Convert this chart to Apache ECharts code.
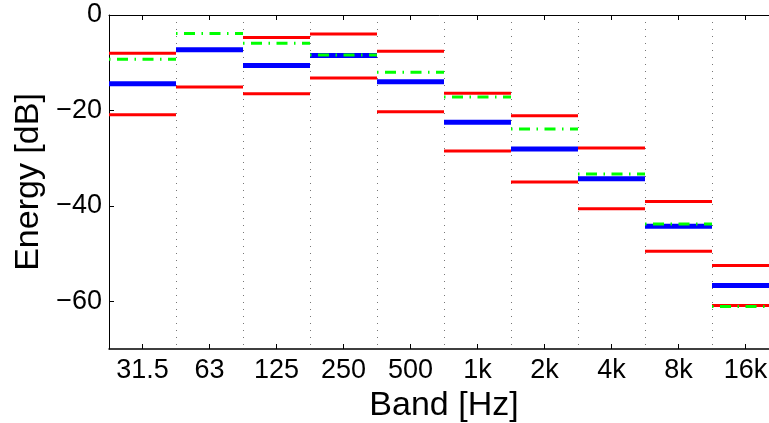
<!DOCTYPE html>
<html>
<head>
<meta charset="utf-8">
<script src="https://cdn.jsdelivr.net/npm/echarts@6/dist/echarts.min.js"></script>
<style>
html,body{margin:0;padding:0;background:#fff;}
#c{width:769px;height:423px;}
</style>
</head>
<body>
<div id="c"></div>
<script>
const bands = ['31.5','63','125','250','500','1k','2k','4k','8k','16k'];
const redUpper = [-8.0, null, -4.7, -4.0, -7.6, -16.4, -21.1, -27.9, -39.1, -52.5];
const redLower = [-20.9, -15.1, -16.5, -13.2, -20.3, -28.5, -35.0, -40.6, -49.5, -60.9];
const blueMean = [-14.4, -7.3, -10.6, -8.5, -14.0, -22.5, -28.1, -34.3, -44.3, -56.7];
const greenRef = [-9.3, -3.9, -5.9, -8.4, -12.0, -17.2, -23.9, -33.3, -43.8, -61.1];
const yTicks = [-60, -40, -20, 0];

const FONT = 'Liberation Sans, Arial, Helvetica, sans-serif';

function toData(arr){
  const d = [];
  arr.forEach((v,i)=>{ if(v!==null) d.push([i, v]); });
  return d;
}
function seg(color, width, dash, offset){
  return function(params, api){
    const c = api.coord([api.value(0), api.value(1)]);
    const w = api.size([1, 0])[0];
    return {
      type: 'line',
      shape: {x1: c[0]-w/2, y1: c[1], x2: c[0]+w/2, y2: c[1]},
      style: {stroke: color, lineWidth: width, lineDash: dash || null, lineDashOffset: offset || 0, lineCap: 'butt'}
    };
  };
}

const chart = echarts.init(document.getElementById('c'), null, {renderer: 'canvas'});
chart.setOption({
  animation: false,
  backgroundColor: '#fff',
  grid: {left: 109, width: 670, top: 15, height: 334, containLabel: false, outerBoundsMode: 'none'},
  xAxis: [{
    type: 'category',
    data: bands,
    position: 'bottom',
    boundaryGap: true,
    name: 'Band [Hz]',
    nameLocation: 'middle',
    nameGap: 36,
    nameTextStyle: {fontFamily: FONT, fontSize: 34, color: '#000'},
    axisLine: {show: true, onZero: false, lineStyle: {color: '#000', width: 1.5}},
    axisTick: {show: true, inside: true, alignWithLabel: true, length: 5, lineStyle: {color: '#000', width: 1}},
    axisLabel: {fontFamily: FONT, fontSize: 27, color: '#000', margin: 8, interval: 0},
    splitLine: {show: true, interval: 0, lineStyle: {color: '#777', width: 1, type: [1, 6]}}
  },{
    type: 'category',
    data: bands,
    position: 'top',
    boundaryGap: true,
    axisLine: {show: true, onZero: false, lineStyle: {color: '#000', width: 1}},
    axisTick: {show: true, inside: true, alignWithLabel: true, length: 5, lineStyle: {color: '#000', width: 1}},
    axisLabel: {show: false},
    splitLine: {show: false}
  }],
  yAxis: {
    type: 'value',
    min: -70,
    max: 0,
    name: 'Energy [dB]',
    nameLocation: 'middle',
    nameGap: 60,
    nameTextStyle: {fontFamily: FONT, fontSize: 34, color: '#000'},
    axisLine: {show: true, onZero: false, lineStyle: {color: '#000', width: 1}},
    axisTick: {show: true, inside: true, length: 5, customValues: yTicks, lineStyle: {color: '#000', width: 1}},
    axisLabel: {fontFamily: FONT, fontSize: 27, color: '#000', margin: 7, customValues: yTicks,
      formatter: v => String(v).replace('-', '\u2212')},
    splitLine: {show: false}
  },
  series: [
    {type: 'custom', name: 'upper', data: toData(redUpper), renderItem: seg('#ff0000', 3), encode: {x: 0, y: 1}, z: 2},
    {type: 'custom', name: 'lower', data: toData(redLower), renderItem: seg('#ff0000', 3), encode: {x: 0, y: 1}, z: 2},
    {type: 'custom', name: 'mean', data: toData(blueMean), renderItem: seg('#0000ff', 5), encode: {x: 0, y: 1}, z: 3},
    {type: 'custom', name: 'ref', data: toData(greenRef), renderItem: seg('#00ff00', 3, [11, 6.5, 1.5, 6.5], 17.5), encode: {x: 0, y: 1}, z: 4}
  ]
});
</script>
</body>
</html>
